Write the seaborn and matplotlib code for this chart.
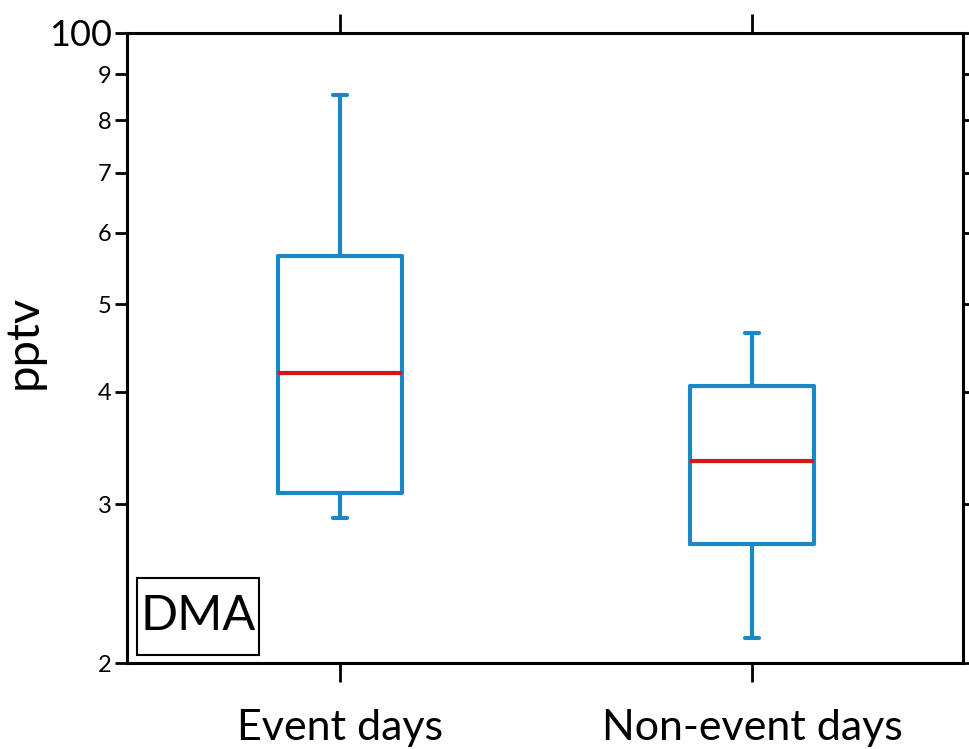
import matplotlib
matplotlib.use("Agg")
import matplotlib.pyplot as plt
import seaborn as sns
import pandas as pd
from matplotlib.patches import Rectangle

# five-number summaries (pptv)
periods = ["Event days", "Non-event days"]
whisker_low = [2.90, 2.13]
q1 = [3.09, 2.71]
median = [4.20, 3.35]
q3 = [5.65, 4.06]
whisker_high = [8.54, 4.65]

ytick_values = [2, 3, 4, 5, 6, 7, 8, 9, 10]
ytick_labels = ["2", "3", "4", "5", "6", "7", "8", "9", "100"]

BLUE = "#1B87C6"
RED = "#D7141C"

sns.set_style("white")
plt.rcParams["font.family"] = ["Lato", "DejaVu Sans"]
plt.rcParams["text.color"] = "black"
plt.rcParams["axes.labelcolor"] = "black"

# with whis=(0, 100) five points give exactly these boxes
rows = []
for i, p in enumerate(periods):
    for v in (whisker_low[i], q1[i], median[i], q3[i], whisker_high[i]):
        rows.append({"period": p, "pptv": v})
df = pd.DataFrame(rows)

fig = plt.figure(figsize=(9.69, 7.49), dpi=100)
ax = fig.add_axes([0.131, 0.1148, 0.8628, 0.8412])

sns.boxplot(
    data=df, x="period", y="pptv", ax=ax,
    whis=(0, 100), width=0.3, fill=False, color=BLUE,
    linewidth=3, log_scale=(False, True), showfliers=False,
    medianprops={"color": RED, "linewidth": 3},
    capwidths=0.036,
)

ax.set_xlim(-0.517, 1.512)
ax.set_ylim(2, 10)
ax.set_yticks(ytick_values)
ax.set_yticklabels(ytick_labels)
ax.yaxis.set_minor_locator(matplotlib.ticker.NullLocator())

for s in ax.spines.values():
    s.set_linewidth(2.2)
    s.set_color("black")

ax.tick_params(axis="y", which="major", left=True, right=True, direction="out",
               length=9, width=2, labelsize=17, pad=2, colors="black")
ax.tick_params(axis="x", which="major", bottom=True, top=True, direction="out",
               length=14, width=2, labelsize=31, pad=19, colors="black")
ax.get_yticklabels()[-1].set_fontsize(26)

ax.set_xlabel("")
ax.set_ylabel("pptv", fontsize=34)
ax.yaxis.set_label_coords(-0.099, 0.51)

# boxed panel tag
ax.add_patch(Rectangle((0.012, 0.0127), 0.146, 0.1226, transform=ax.transAxes,
                       fill=False, ec="black", lw=1.5))
ax.text(0.085, 0.074, "DMA", transform=ax.transAxes, ha="center", va="center",
        fontsize=35, color="black")

fig.savefig("out.png", dpi=100)
